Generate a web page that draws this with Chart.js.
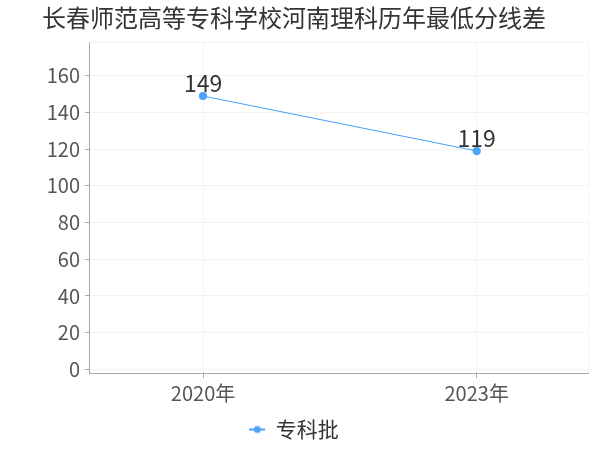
<!DOCTYPE html>
<html>
<head>
<meta charset="utf-8">
<script src="https://cdn.jsdelivr.net/npm/chart.js@4"></script>
<style>
  body { margin: 0; background: #fff; }
  #wrap { width: 600px; height: 450px; }
</style>
</head>
<body>
<div id="wrap"><canvas id="lineChart"></canvas></div>
<script>
const years = [2020, 2023];
const yearLabels = ['2020年', '2023年'];
const scores = [149, 119];
const seriesName = '专科批';
const yTicks = [0, 20, 40, 60, 80, 100, 120, 140, 160];

const lineColor = '#4da3f7';
const fontFamily = '"Noto Sans CJK SC", "Noto Sans", sans-serif';
const xMin = 2018.75, xMax = 2024.22;

// legend marker: short line with a dot
function makeLegendIcon() {
    const c = document.createElement('canvas');
    c.width = 16; c.height = 10;
    const g = c.getContext('2d');
    g.strokeStyle = lineColor;
    g.lineWidth = 2;
    g.beginPath();
    g.moveTo(0, 5); g.lineTo(16, 5);
    g.stroke();
    g.fillStyle = lineColor;
    g.beginPath();
    g.arc(8, 5, 3.5, 0, Math.PI * 2);
    g.fill();
    return c;
}

const valueLabels = {
    id: 'valueLabels',
    afterDatasetsDraw(chart) {
        const ctx = chart.ctx;
        const meta = chart.getDatasetMeta(0);
        ctx.save();
        ctx.font = '23px ' + fontFamily;
        ctx.fillStyle = '#333';
        ctx.textAlign = 'center';
        ctx.textBaseline = 'alphabetic';
        meta.data.forEach((pt, i) => {
            ctx.fillText(String(scores[i]), pt.x, pt.y - 4);
        });
        ctx.restore();
    }
};

const ctx = document.getElementById('lineChart').getContext('2d');
new Chart(ctx, {
    type: 'line',
    data: {
        datasets: [{
            label: seriesName,
            data: years.map((y, i) => ({ x: y, y: scores[i] })),
            borderColor: lineColor,
            backgroundColor: lineColor,
            borderWidth: 1.2,
            pointStyle: 'circle',
            pointRadius: 3.5,
            pointHoverRadius: 3.5,
            tension: 0
        }]
    },
    options: {
        responsive: true,
        maintainAspectRatio: false,
        animation: false,
        layout: { padding: { left: 0, right: 12, top: 0, bottom: 0 } },
        plugins: {
            title: {
                display: true,
                text: '长春师范高等专科学校河南理科历年最低分线差',
                color: '#333',
                font: { family: fontFamily, size: 24, weight: 'normal' },
                padding: { top: 3, bottom: 11 }
            },
            legend: {
                position: 'bottom',
                labels: {
                    color: '#333',
                    font: { family: fontFamily, size: 21 },
                    padding: 8,
                    boxWidth: 16,
                    usePointStyle: true,
                    generateLabels(chart) {
                        return [{
                            text: seriesName,
                            pointStyle: makeLegendIcon(),
                            fillStyle: lineColor,
                            strokeStyle: lineColor,
                            fontColor: '#333',
                            datasetIndex: 0
                        }];
                    }
                }
            },
            tooltip: { enabled: false }
        },
        scales: {
            x: {
                type: 'linear',
                min: xMin,
                max: xMax,
                afterBuildTicks(scale) {
                    scale.ticks = years.map(v => ({ value: v })).concat([{ value: xMax }]);
                },
                afterFit(scale) { scale.height = 38; },
                ticks: {
                    color: '#555',
                    font: { family: fontFamily, size: 20 },
                    padding: 3,
                    maxRotation: 0,
                    autoSkip: false,
                    callback(v) {
                        const i = years.indexOf(v);
                        return i >= 0 ? yearLabels[i] : '';
                    }
                },
                grid: {
                    color: '#f3f3f3',
                    tickColor: c => (c.tick && c.tick.value === xMax) ? 'rgba(0,0,0,0)' : '#aaa',
                    tickLength: 5
                },
                border: { color: '#aaa' }
            },
            y: {
                min: -2,
                max: 178,
                afterBuildTicks(scale) {
                    scale.ticks = [{ value: -2 }].concat(yTicks.map(v => ({ value: v }))).concat([{ value: 178 }]);
                },
                afterFit(scale) { scale.width = 89; },
                ticks: {
                    color: '#555',
                    font: { family: fontFamily, size: 20 },
                    padding: 5,
                    autoSkip: false,
                    callback(v) { return yTicks.includes(v) ? String(v) : ''; }
                },
                grid: {
                    color: '#f3f3f3',
                    tickColor: c => (c.tick && yTicks.includes(c.tick.value)) ? '#aaa' : 'rgba(0,0,0,0)',
                    tickLength: 4
                },
                border: { color: '#aaa' }
            }
        }
    },
    plugins: [valueLabels]
});
</script>
</body>
</html>
